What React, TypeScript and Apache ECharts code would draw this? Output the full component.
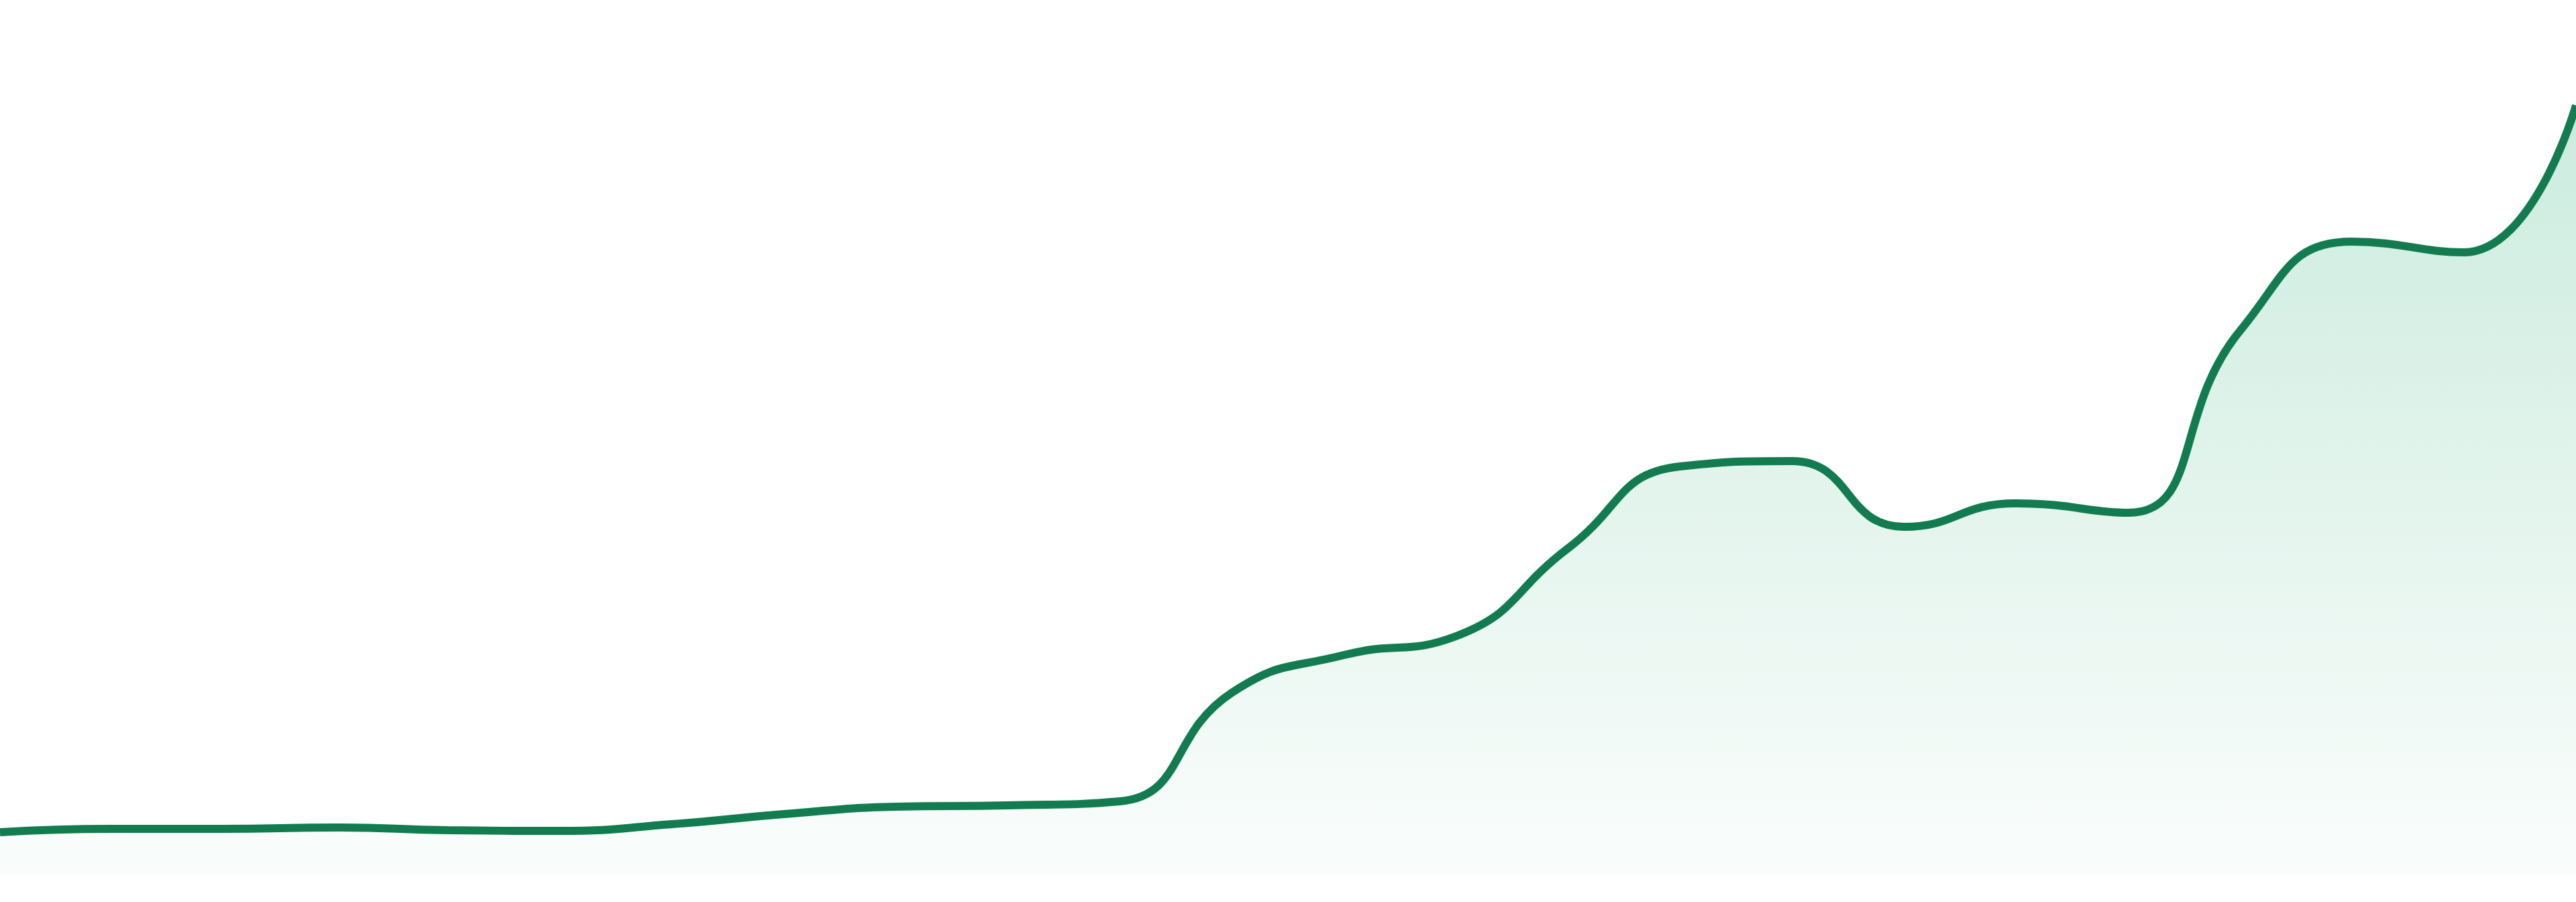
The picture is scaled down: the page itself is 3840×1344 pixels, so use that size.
import { useEffect, useRef } from "react";
import * as echarts from "echarts";

// 24 periods, no visible axis labels in the picture
const periods = [
  "P01", "P02", "P03", "P04", "P05", "P06", "P07", "P08",
  "P09", "P10", "P11", "P12", "P13", "P14", "P15", "P16",
  "P17", "P18", "P19", "P20", "P21", "P22", "P23", "P24"
];

const values = [
  6.4, 6.9, 6.9, 7.1, 6.7, 6.6, 7.6, 9.1,
  10.2, 10.4, 11.0, 27.2, 32.8, 35.6, 48.7, 60.9,
  61.7, 51.9, 55.4, 54.0, 81.1, 94.4, 92.8, 114.7
];

const yMin = 0;
const yMax = 128;

export default function App() {
  const ref = useRef<HTMLDivElement | null>(null);

  useEffect(() => {
    if (!ref.current) return;
    const chart = echarts.init(ref.current, undefined, { renderer: "svg" });

    const option: echarts.EChartsOption = {
      animation: false,
      backgroundColor: "#ffffff",
      grid: { left: 0, right: 0, top: 24, bottom: 40 },
      xAxis: {
        type: "category",
        data: periods,
        boundaryGap: false,
        axisLine: { show: false },
        axisTick: { show: false },
        axisLabel: { show: false },
        splitLine: { show: false }
      },
      yAxis: {
        type: "value",
        min: yMin,
        max: yMax,
        interval: 16,
        axisLine: { show: false },
        axisTick: { show: false },
        axisLabel: { show: false },
        splitLine: { show: false }
      },
      series: [
        {
          type: "line",
          data: values,
          smooth: true,
          showSymbol: false,
          lineStyle: { width: 12, color: "#127c50", cap: "butt" },
          areaStyle: {
            color: new echarts.graphic.LinearGradient(0, 0, 0, 1, [
              { offset: 0, color: "#b5e3d0" },
              { offset: 1, color: "#f8fcfa" }
            ])
          }
        }
      ]
    };

    chart.setOption(option);

    return () => {
      chart.dispose();
    };
  }, []);

  return (
    <div
      ref={ref}
      style={{ position: "fixed", left: 0, top: 0, width: "100vw", height: "100vh" }}
    />
  );
}
